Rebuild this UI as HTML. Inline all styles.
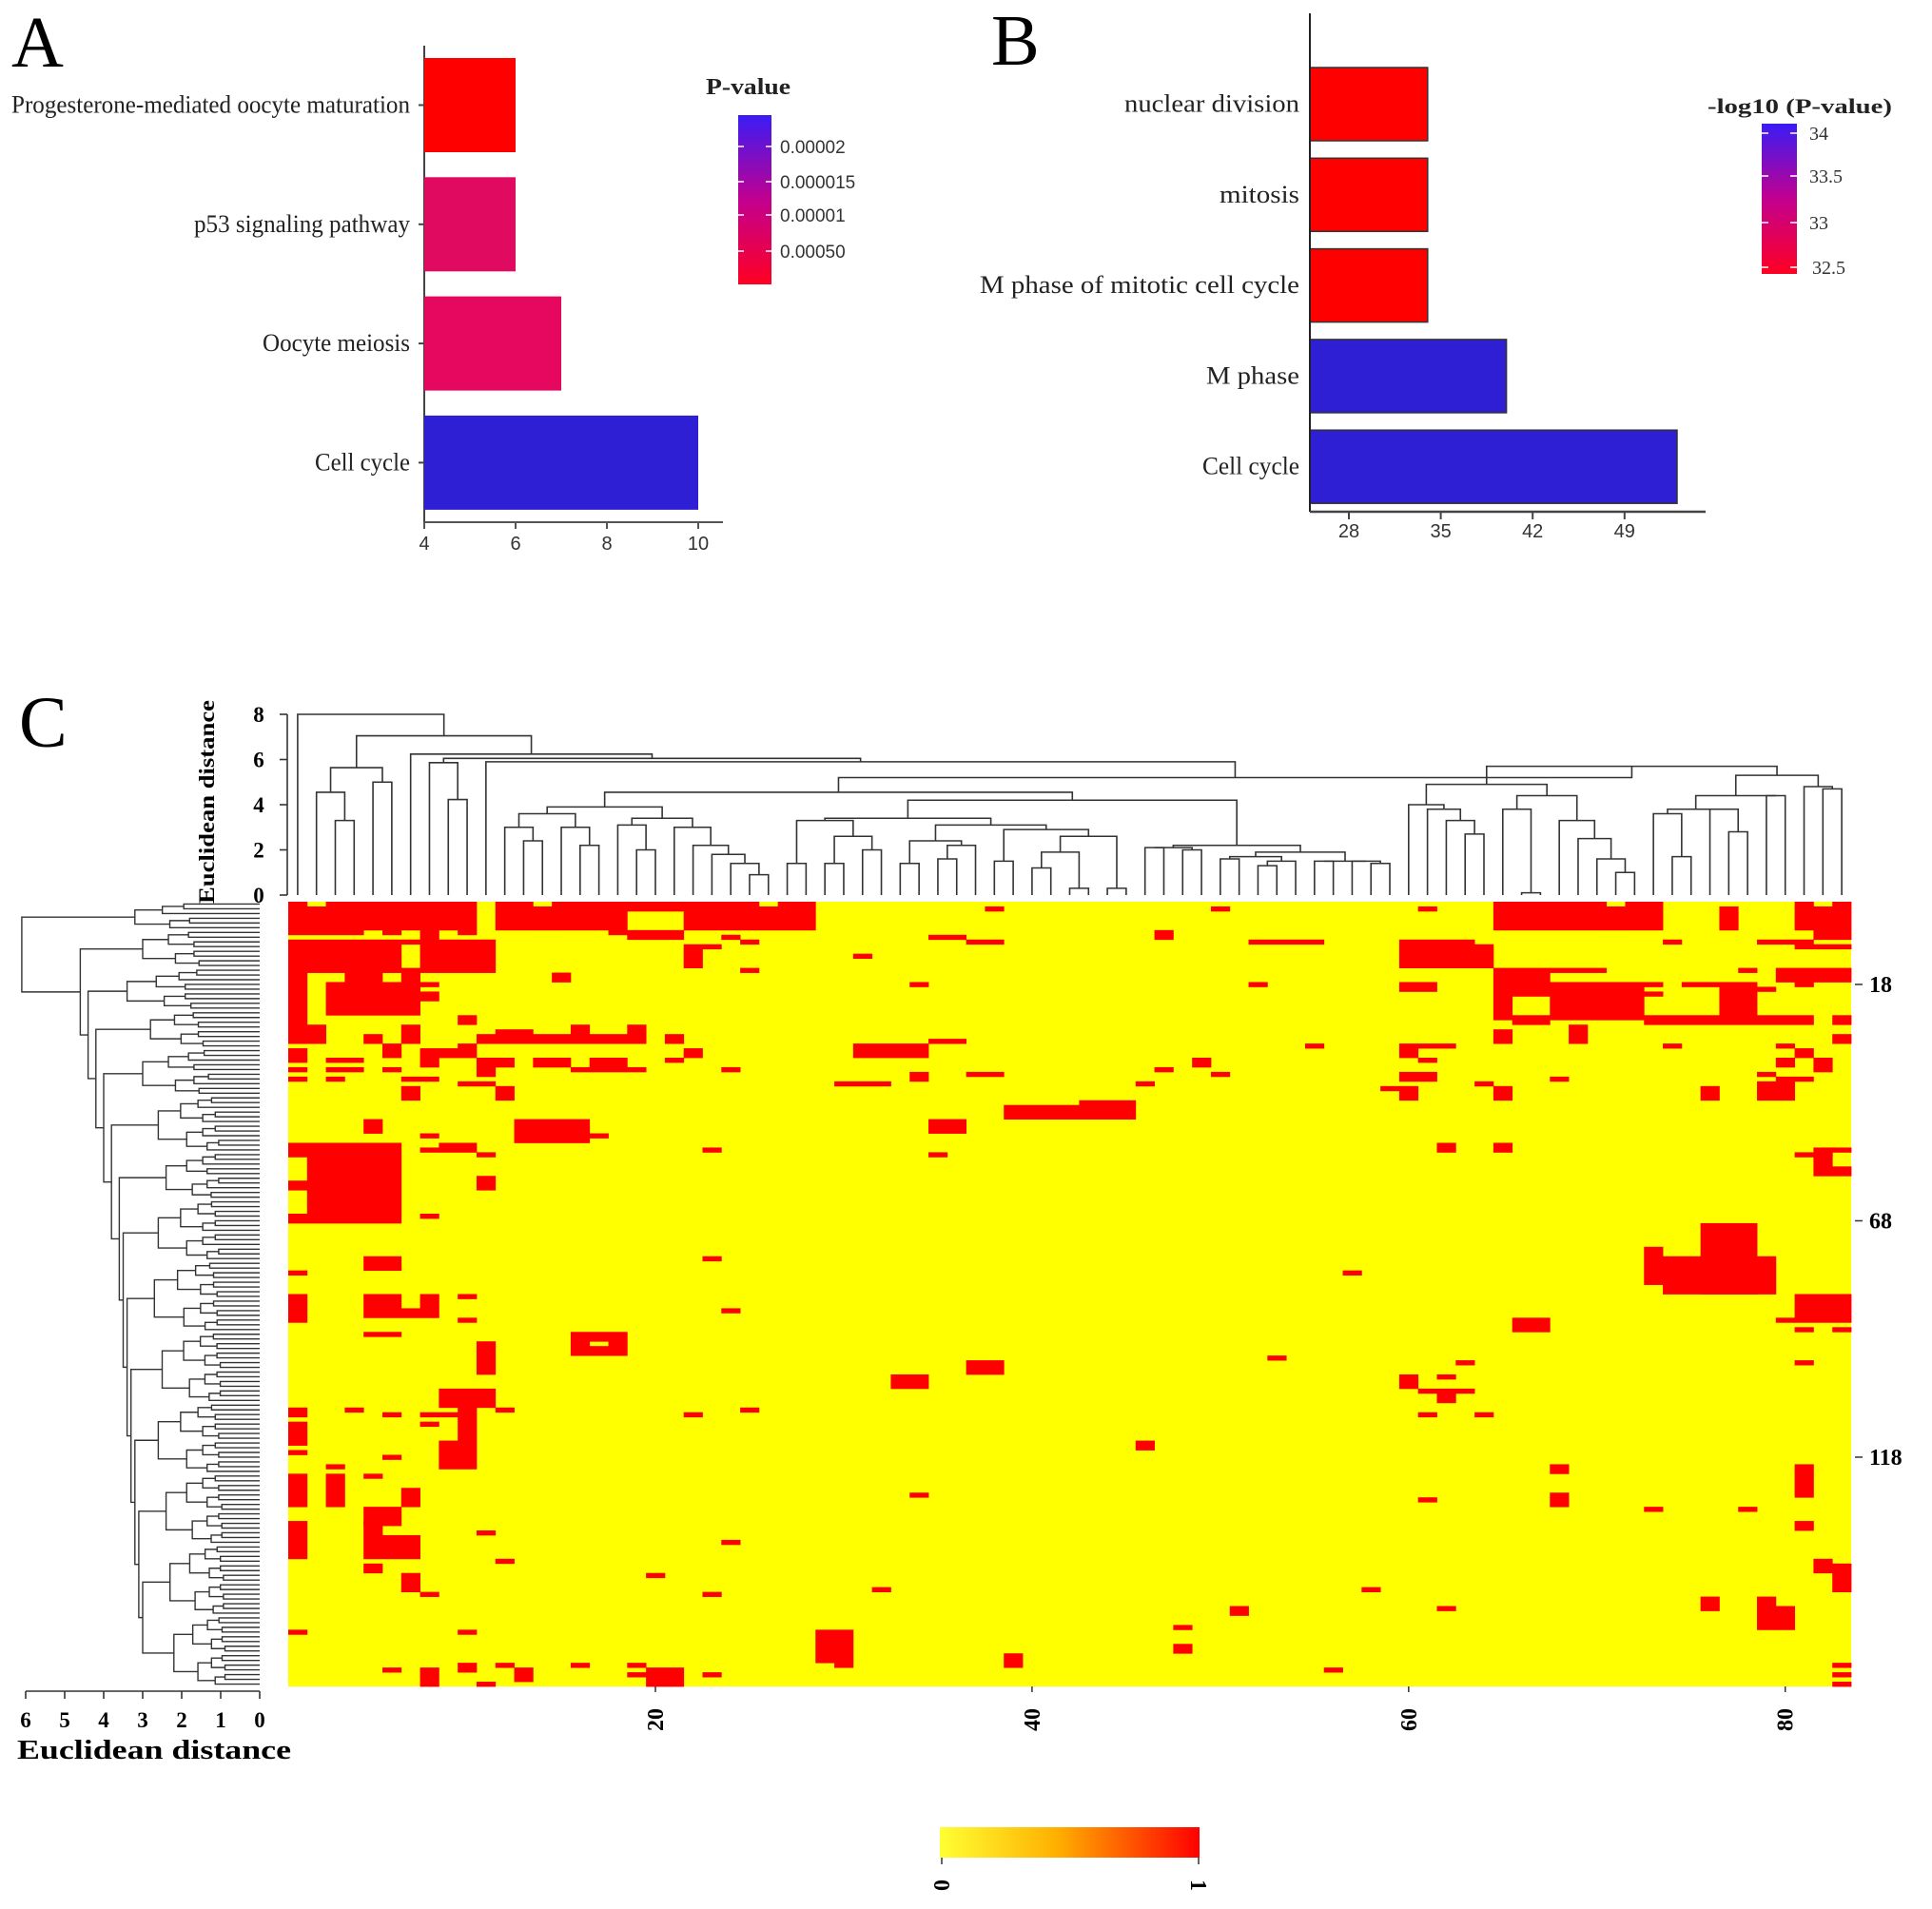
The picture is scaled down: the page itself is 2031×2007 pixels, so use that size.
<!DOCTYPE html>
<html><head><meta charset="utf-8"><style>
html,body{margin:0;padding:0;background:#fff;}
svg{display:block;}
.serif{font-family:"Liberation Serif",serif;}
.sans{font-family:"Liberation Sans",sans-serif;}
</style></head><body>
<svg id="fig" width="2031" height="2007" viewBox="0 0 2031 2007" xmlns="http://www.w3.org/2000/svg">
<defs>
<linearGradient id="gradA" x1="0" y1="1" x2="0" y2="0"><stop offset="0" stop-color="#ff0022"/><stop offset="0.5" stop-color="#c2008f"/><stop offset="1" stop-color="#3a1cf5"/></linearGradient>
<linearGradient id="gradHM" x1="0" y1="0" x2="1" y2="0"><stop offset="0" stop-color="#ffff33"/><stop offset="0.45" stop-color="#ffb000"/><stop offset="1" stop-color="#ff0000"/></linearGradient>
</defs>
<text class="serif" x="12" y="70" font-size="76">A</text>
<text class="serif" x="1042" y="68" font-size="76">B</text>
<text class="serif" x="20" y="785" font-size="76">C</text>
<g id="panelA"></g>
<g id="panelB"></g>
<g id="panelC"></g>
</svg>
<script>
// ---------- Panel A data ----------
const catsA = ["Progesterone-mediated oocyte maturation","p53 signaling pathway","Oocyte meiosis","Cell cycle"];
const countsA = [6, 6, 7, 10];
const colorA = ["#ff0000","#e00a60","#e6075e","#2e1fd4"];
const ticksA = [4, 6, 8, 10];
const legendTicksA = ["0.00002","0.000015","0.00001","0.00050"];
// ---------- Panel B data ----------
const catsB = ["nuclear division","mitosis","M phase of mitotic cell cycle","M phase","Cell cycle"];
const valuesB = [34, 34, 34, 40, 53];
const colorB = ["#ff0000","#ff0000","#ff0000","#2e1fd4","#2e1fd4"];
const ticksB = [28, 35, 42, 49];
const legendTicksB = ["34","33.5","33","32.5"];
// ---------- Panel C data ----------
const nCols = 83;
const nRows = 166;
const colTicks = [20, 40, 60, 80];
const rowTicks = [18, 68, 118];
const redBlocks = [
[0,0,0,5],[1,1,1,5],[2,9,0,5],[11,12,0,5],[13,13,1,5],[14,17,0,5],[18,20,0,1],[21,24,0,5],[25,25,1,5],[26,27,0,5],
[17,20,6,6],[18,20,7,7],[0,3,6,6],[5,5,6,6],[7,7,6,7],[9,9,6,6],
[0,9,8,8],[0,5,9,14],[7,9,9,14],[10,10,8,14],
[0,0,15,29],[2,6,17,23],[3,4,15,16],[6,6,14,16],[7,7,17,17],[7,7,19,20],[14,14,15,16],[9,9,24,25],
[0,1,26,29],[4,4,28,29],[6,6,26,29],[10,18,28,29],[11,12,27,27],[15,15,26,27],[18,18,26,27],[20,20,28,29],
[0,0,31,33],[5,5,30,32],[7,9,31,32],[7,7,33,34],[9,9,30,30],[21,21,31,32],[30,33,30,32],[34,35,29,29],
[2,3,33,33],[2,3,35,35],[10,11,33,34],[10,10,35,35],[13,14,33,34],[16,17,33,34],[20,20,33,33],[15,18,35,35],[23,23,35,35],[0,0,35,35],[5,5,35,35],
[33,33,36,37],[36,37,36,36],[29,31,38,38],[10,10,36,36],[9,10,38,38],[6,7,37,37],[0,0,37,37],[2,2,37,37],
[6,6,39,41],[11,11,39,41],[38,44,43,45],[42,44,42,42],
[4,4,46,48],[12,15,46,50],[16,16,49,49],[7,7,49,49],[8,9,51,52],[7,7,52,52],[10,10,53,53],[22,22,52,52],[34,35,46,48],[34,34,53,53],
[1,5,51,67],[0,0,51,53],[0,0,59,60],[0,0,66,67],[10,10,58,60],[7,7,66,66],[22,22,75,75],[4,5,75,77],[0,0,78,78],
[37,37,1,1],[34,35,7,7],[36,37,8,8],[30,30,11,11],[33,33,17,17],[23,23,7,7],[24,24,8,8],[21,21,9,13],[22,22,9,9],[24,24,14,14],
[49,49,1,1],[60,60,1,1],[64,69,0,5],[70,70,1,5],[71,72,0,5],[76,76,1,5],[80,80,0,5],[81,81,1,5],[82,82,0,5],[81,82,6,7],[80,82,9,9],[78,80,8,8],
[46,46,6,7],[51,54,8,8],[59,62,8,13],[63,63,9,13],[64,64,14,24],[65,66,14,19],[67,69,14,14],[67,71,17,24],[72,80,24,25],[65,66,24,25],[73,73,8,8],[74,77,17,17],[76,77,18,24],[72,72,17,17],[72,72,19,19],[77,77,14,14],[79,82,14,16],[80,80,17,17],[78,78,18,18],[82,82,24,25],[82,82,28,29],
[51,51,17,17],[59,60,17,18],
[64,64,27,29],[68,68,26,29],[54,54,30,30],[59,61,30,30],[59,59,31,32],[60,60,33,33],[73,73,30,30],[79,79,30,30],[80,80,31,32],[79,79,33,34],[81,81,33,35],
[48,48,33,34],[46,46,35,35],[49,49,36,36],[59,60,36,37],[45,45,38,38],[58,59,39,39],[59,59,40,41],[63,63,38,38],[64,64,39,41],[67,67,37,37],[75,75,39,41],[78,79,38,41],[78,78,36,36],[79,80,37,37],
[61,61,51,52],[64,64,51,52],[80,81,53,53],[81,81,52,57],[82,82,52,52],[82,82,56,57],
[75,77,68,82],[72,72,73,80],[73,78,75,82],[56,56,78,78],
[0,0,83,88],[4,5,83,87],[6,6,86,87],[7,7,83,87],[9,9,83,83],[9,9,88,88],[23,23,86,86],[4,5,91,91],[15,17,91,92],[15,15,93,93],[17,17,93,93],[15,17,94,95],
[10,10,93,99],[36,37,97,99],[32,33,100,102],[8,10,103,106],[9,9,106,119],[8,8,114,119],[7,8,108,108],[7,7,110,110],[11,11,107,107],[0,0,107,108],[3,3,107,107],[5,5,108,108],[0,0,110,114],[0,0,116,116],[5,5,117,117],[21,21,108,108],[24,24,107,107],
[2,2,119,119],[2,2,121,127],[0,0,121,123],[0,0,124,127],[4,4,121,121],[6,6,124,127],[4,5,128,131],[4,4,131,138],[5,6,134,138],[0,0,131,138],[4,4,140,141],[6,6,142,145],
[33,33,125,125],[10,10,133,133],[23,23,135,135],[11,11,139,139],[19,19,142,142],[7,7,146,146],[22,22,146,146],[31,31,145,145],
[0,0,154,154],[9,9,154,154],[28,29,154,160],[29,29,161,161],[38,38,159,161],[5,5,162,162],[7,7,162,165],[9,9,161,162],[11,11,161,161],[12,12,162,164],[15,15,161,161],[18,18,161,161],[18,18,163,163],[19,20,162,165],[22,22,163,163],[10,10,165,165],
[80,82,83,88],[79,79,88,88],[80,80,90,90],[82,82,90,90],[65,66,88,90],[52,52,96,96],[62,62,97,97],[80,80,97,97],[59,59,100,102],[61,61,100,100],[60,62,103,103],[61,61,104,105],[60,60,108,108],[63,63,108,108],
[45,45,114,115],[67,67,119,120],[67,67,125,127],[60,60,126,126],[72,72,128,128],[77,77,128,128],[80,80,119,125],[80,80,131,132],[81,81,139,141],[82,82,140,145],
[57,57,145,145],[50,50,149,150],[61,61,149,149],[47,47,153,153],[47,47,157,158],[55,55,162,162],[75,75,147,149],[78,78,147,153],[79,79,149,153],[82,82,161,161],[82,82,163,163],[82,82,165,165]
];
// top (column) dendrogram: [height, left, right]; leaves are column indices
const colTree = [8, 0, [7.05,
  [5.64, [4.55, 1, [3.3, 2, 3]], [5.0, 4, 5]],
  [6.24, 6, [6.05, [5.86, 7, [4.23, 8, 9]], [5.9, 10, [5.2,
    [4.55,
      [3.9, [3.6, [3.0, 11, [2.4, 12, 13]], [3.0, 14, [2.2, 15, 16]]], [3.4, [3.1, 17, [2.0, 18, 19]], [3.0, 20, [2.2, 21, [1.8, 22, [1.4, 23, [0.9, 24, 25]]]]]]],
      [4.2,
        [3.4, [3.3, [1.4, 26, 27], [2.6, [1.4, 28, 29], [2.0, 30, 31]]], [3.1, [2.4, [1.4, 32, 33], [2.2, [1.6, 34, 35], 36]], [2.9, [1.5, 37, 38], [2.6, [1.9, [1.2, 39, 40], [0.3, 41, 42]], [0.3, 43, 44]]]]],
        [2.2, [2.1, [2.1, 45, 46], [2.0, 47, 48]], [1.9, [1.7, [1.6, 49, 50], [1.5, [1.3, 51, 52], 53]], [1.5, [1.5, 54, 55], [1.5, 56, [1.4, 57, 58]]]]]]],
    [5.7,
      [4.9, [4.0, 59, [3.8, 60, [3.3, 61, [2.7, 62, 63]]]], [4.4, [3.8, 64, [0.1, 65, 66]], [3.3, 67, [2.5, 68, [1.6, 69, [1.0, 70, 71]]]]]],
      [5.3, [4.4, [3.8, [3.6, 72, [1.7, 73, 74]], [3.8, 75, [2.8, 76, 77]]], [4.4, 78, 79]], [4.8, 80, [4.7, 81, 82]]]]
  ]]]]]];
// left (row) dendrogram groups: [startRow, endRow, joinHeight, innerHeight]
const rowGroups = [[0,5,6.1,3.2],[6,13,4.6,3.0],[14,22,4.4,3.4],[23,30,4.2,2.8],[31,40,4.0,3.0],[41,52,3.8,2.6],[53,62,3.6,2.4],[63,75,3.5,2.6],[76,90,3.4,2.7],[91,105,3.3,2.5],[106,120,3.2,2.6],[121,135,3.1,2.4],[136,150,3.0,2.3],[151,165,2.9,2.2]];
const distTicksTop = [0, 2, 4, 6, 8];
const distTicksLeft = [6, 5, 4, 3, 2, 1, 0];

const NS = "http://www.w3.org/2000/svg";
function el(parent, tag, attrs){ const e=document.createElementNS(NS,tag); for(const k in attrs) e.setAttribute(k,attrs[k]); parent.appendChild(e); return e; }

// ---------- Panel A ----------
(function(){
  const g = document.getElementById('panelA');
  const x = v => 446 + (v-4)*48;
  const barTop = i => 61 + i*125.3, barH = 99;
  const xAxis = el(g,'line',{x1:446,y1:549,x2:760,y2:549,stroke:'#555','stroke-width':2});
   
  const yAxis = el(g,'line',{x1:446,y1:48,x2:446,y2:549,stroke:'#444','stroke-width':2});
   
  catsA.forEach((c,i)=>{
    const r = el(g,'rect',{x:x(4),y:barTop(i),width:x(countsA[i])-x(4),height:barH,fill:colorA[i]});
     
    const yc = barTop(i)+barH/2;
    el(g,'line',{x1:440,y1:yc,x2:446,y2:yc,stroke:'#444','stroke-width':2});
    const widths=[419,227,155,100];
    const t = el(g,'text',{x:431,y:yc+8,'text-anchor':'end','font-size':26,class:'serif',fill:'#222',textLength:widths[i],lengthAdjust:'spacingAndGlyphs'});
    t.textContent=c;  
  });
  ticksA.forEach(v=>{
    el(g,'line',{x1:x(v),y1:549,x2:x(v),y2:556,stroke:'#555','stroke-width':2});
    const t=el(g,'text',{x:x(v),y:578,'text-anchor':'middle','font-size':20,class:'sans',fill:'#333'});
    t.textContent=v;  
  });
  const lt=el(g,'text',{x:742,y:99,'font-size':24,'font-weight':'bold',class:'serif',fill:'#222',textLength:89,lengthAdjust:'spacingAndGlyphs'});
  lt.textContent='P-value';  
  const cb=el(g,'rect',{x:776,y:121,width:35,height:178,fill:'url(#gradA)'});
   
  const ly=[154,191,226,264];
  legendTicksA.forEach((s,i)=>{
    el(g,'line',{x1:776,y1:ly[i],x2:782,y2:ly[i],stroke:'#fff','stroke-width':1.5});
    el(g,'line',{x1:805,y1:ly[i],x2:811,y2:ly[i],stroke:'#fff','stroke-width':1.5});
    const t=el(g,'text',{x:820,y:ly[i]+7,'font-size':19,class:'sans',fill:'#333'});
    t.textContent=s;  
  });
})();

// ---------- Panel B ----------
(function(){
  const g = document.getElementById('panelB');
  const x = v => 1418 + (v-28)*13.8;
  const x0 = 1377;
  const barTop = i => 71 + i*95.3, barH = 77;
  catsB.forEach((c,i)=>{
    const r = el(g,'rect',{x:x0,y:barTop(i),width:x(valuesB[i])-x0,height:barH,fill:colorB[i],stroke:'#333','stroke-width':1.5});
     
    const widths=[184,84,336,98,102];
    const t=el(g,'text',{x:1366,y:barTop(i)+barH/2+8,'text-anchor':'end','font-size':26,class:'serif',fill:'#222',textLength:widths[i],lengthAdjust:'spacingAndGlyphs'});
    t.textContent=c;  
  });
  const ya=el(g,'line',{x1:x0,y1:14,x2:x0,y2:538,stroke:'#222','stroke-width':2});
   
  const xa=el(g,'line',{x1:x0,y1:538,x2:1793,y2:538,stroke:'#444','stroke-width':2.5});
   
  ticksB.forEach(v=>{
    el(g,'line',{x1:x(v),y1:538,x2:x(v),y2:546,stroke:'#444','stroke-width':2});
    const t=el(g,'text',{x:x(v),y:565,'text-anchor':'middle','font-size':20,class:'sans',fill:'#333'});
    t.textContent=v;  
  });
  const lt=el(g,'text',{x:1795,y:119,'font-size':22,'font-weight':'bold',class:'serif',fill:'#222',textLength:194,lengthAdjust:'spacingAndGlyphs'});
  lt.textContent='-log10 (P-value)';  
  const cb=el(g,'rect',{x:1852,y:130,width:37,height:158,fill:'url(#gradA)'});
   
  const ly=[140,185,234,281];
  legendTicksB.forEach((s,i)=>{
    el(g,'line',{x1:1852,y1:ly[i],x2:1859,y2:ly[i],stroke:'#fff','stroke-width':1.5});
    el(g,'line',{x1:1882,y1:ly[i],x2:1889,y2:ly[i],stroke:'#fff','stroke-width':1.5});
    const t=el(g,'text',{x:1902+(i==3?3:0),y:ly[i]+7,'font-size':20,class:'serif',fill:'#333'});
    t.textContent=s;  
  });
})();

// ---------- Panel C ----------
(function(){
  const g = document.getElementById('panelC');
  const HX0=303, HX1=1946, HY0=948, HY1=1773;
  const cw=(HX1-HX0)/nCols, rh=(HY1-HY0)/nRows;
  const colX = c => HX0 + (c+0.5)*cw;
  const rowY = r => HY0 + (r+0.5)*rh;
  const bg=el(g,'rect',{x:HX0,y:HY0,width:HX1-HX0,height:HY1-HY0,fill:'#ffff00'});
   
  redBlocks.forEach(b=>{
    const r=el(g,'rect',{x:HX0+b[0]*cw,y:HY0+b[2]*rh,width:(b[1]-b[0]+1)*cw+0.4,height:(b[3]-b[2]+1)*rh+0.4,fill:'#ff0000'});
     
  });
  // top dendrogram
  const hy = h => 941 - h*23.75;
  const dg = el(g,'g',{stroke:'#333','stroke-width':1.6,fill:'none'});
   
  function drawTop(n){
    if(typeof n==='number') return {x:colX(n),h:0};
    const a=drawTop(n[1]), b=drawTop(n[2]);
    el(dg,'path',{d:`M${a.x},${hy(a.h)}V${hy(n[0])}H${b.x}V${hy(b.h)}`});
    return {x:(a.x+b.x)/2,h:n[0]};
  }
  drawTop(colTree);
  const ax=el(g,'line',{x1:302,y1:hy(8),x2:302,y2:hy(0),stroke:'#333','stroke-width':1.6});
   
  distTicksTop.forEach(v=>{
    el(g,'line',{x1:294,y1:hy(v),x2:302,y2:hy(v),stroke:'#333','stroke-width':1.6});
    const t=el(g,'text',{x:272,y:hy(v)+8,'text-anchor':'middle','font-size':23,'font-weight':'bold',class:'serif'});
    t.textContent=v;  
  });
  const yl=el(g,'text',{x:0,y:0,'font-size':23,'font-weight':'bold',class:'serif','text-anchor':'middle',transform:'translate(225,843) rotate(-90)',textLength:214,lengthAdjust:'spacingAndGlyphs'});
  yl.textContent='Euclidean distance';  
  // left dendrogram
  const hx = h => 273 - h*41;
  const lg = el(g,'g',{stroke:'#333','stroke-width':1.4,fill:'none'});
   
  function drawNode(a,b,h){ el(lg,'path',{d:`M${hx(a.h)},${a.y}H${hx(h)}V${b.y}H${hx(b.h)}`}); return {y:(a.y+b.y)/2,h:h}; }
  function sub(s,e,h){
    if(s===e) return {y:rowY(s),h:0};
    const m=Math.floor((s+e)/2);
    return drawNode(sub(s,m,h*0.78),sub(m+1,e,h*0.72),h);
  }
  const groups = rowGroups.map(gr=>sub(gr[0],gr[1],gr[3]));
  let node = groups[groups.length-1];
  for(let i=groups.length-2;i>=1;i--) node = drawNode(groups[i],node,rowGroups[i][2]);
  drawNode(groups[0],node,rowGroups[0][2]);
  const lax=el(g,'line',{x1:hx(6),y1:1778,x2:hx(0),y2:1778,stroke:'#333','stroke-width':1.6});
   
  distTicksLeft.forEach(v=>{
    el(g,'line',{x1:hx(v),y1:1778,x2:hx(v),y2:1786,stroke:'#333','stroke-width':1.6});
    const t=el(g,'text',{x:hx(v),y:1816,'text-anchor':'middle','font-size':23,'font-weight':'bold',class:'serif'});
    t.textContent=v;  
  });
  const xl=el(g,'text',{x:18,y:1849,'font-size':29,'font-weight':'bold',class:'serif',textLength:288,lengthAdjust:'spacingAndGlyphs'});
  xl.textContent='Euclidean distance';  
  // column tick labels
  colTicks.forEach(c=>{
    const cx=colX(c-1);
    el(g,'line',{x1:cx,y1:HY1,x2:cx,y2:HY1+6,stroke:'#333','stroke-width':1.5});
    const t=el(g,'text',{x:0,y:0,'font-size':24,'font-weight':'bold',class:'serif','text-anchor':'middle',transform:`translate(${cx+8},1808) rotate(-90)`});
    t.textContent=c;  
  });
  rowTicks.forEach(r=>{
    const y=rowY(r-1);
    el(g,'line',{x1:HX1+4,y1:y,x2:HX1+12,y2:y,stroke:'#333','stroke-width':1.5});
    const t=el(g,'text',{x:1965,y:y+8,'font-size':24,'font-weight':'bold',class:'serif'});
    t.textContent=r;  
  });
  // color key
  const ck=el(g,'rect',{x:988,y:1921,width:273,height:32,fill:'url(#gradHM)'});
   
  [[0,990],[1,1260]].forEach(p=>{
    el(g,'line',{x1:p[1],y1:1953,x2:p[1],y2:1960,stroke:'#333','stroke-width':1.5});
    const t=el(g,'text',{x:0,y:0,'font-size':24,'font-weight':'bold',class:'serif','text-anchor':'middle',transform:`translate(${p[1]-8},1982) rotate(90)`});
    t.textContent=p[0];  
  });
})();
</script>
</body></html>
